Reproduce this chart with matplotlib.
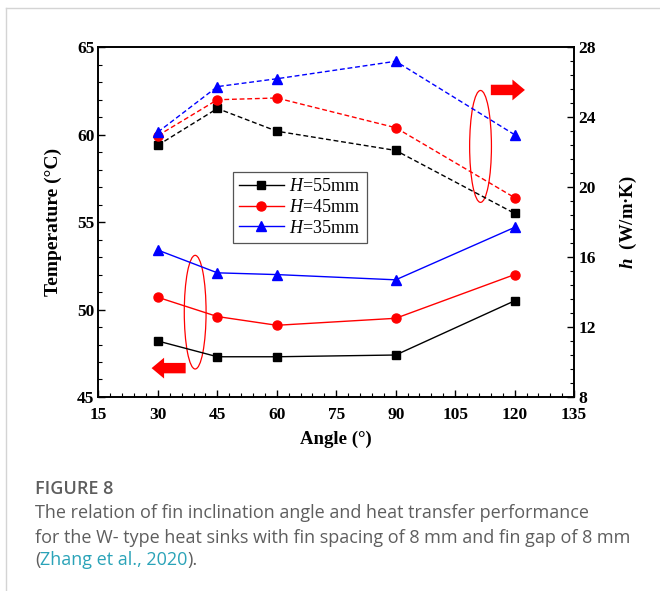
import matplotlib.pyplot as plt
from matplotlib.patches import Ellipse
from matplotlib.ticker import MultipleLocator
from matplotlib.lines import Line2D

angle = [30, 45, 60, 90, 120]
heights = ['55', '45', '35']

# surface temperature (left axis, solid)
temp_55 = [48.2, 47.3, 47.3, 47.4, 50.5]
temp_45 = [50.7, 49.6, 49.1, 49.5, 52.0]
temp_35 = [53.4, 52.1, 52.0, 51.7, 54.7]

# heat transfer coefficient (right axis, dashed)
h_55 = [22.4, 24.5, 23.2, 22.1, 18.5]
h_45 = [22.95, 25.0, 25.1, 23.4, 19.4]
h_35 = [23.15, 25.75, 26.2, 27.2, 23.0]

colors = ['black', 'red', 'blue']
markers = ['s', 'o', '^']
msizes = [5.5, 6.5, 7]

serif = 'Liberation Serif'
plt.rcParams['mathtext.fontset'] = 'custom'
plt.rcParams['mathtext.rm'] = 'Liberation Serif'
plt.rcParams['mathtext.it'] = 'Liberation Serif:italic'
plt.rcParams['mathtext.bf'] = 'Liberation Serif:bold:italic'

fig = plt.figure(figsize=(6.6, 5.91), dpi=100)

# card border
fig.add_artist(Line2D([0.009, 0.009], [0.0, 0.987], color='#d4d4d4', lw=1.0))
fig.add_artist(Line2D([0.009, 1.0], [0.987, 0.987], color='#d4d4d4', lw=1.0))

ax = fig.add_axes([0.1492, 0.3283, 0.7206, 0.5917])
ax2 = ax.twinx()

for T, h, c, m, ms, H in zip([temp_55, temp_45, temp_35], [h_55, h_45, h_35],
                             colors, markers, msizes, heights):
    ax.plot(angle, T, color=c, marker=m, markersize=ms, lw=1.0,
            label=r'$H$=' + H + 'mm')
    ax2.plot(angle, h, color=c, marker=m, markersize=ms, lw=1.0,
             linestyle=(0, (3.5, 2)))

ax.set_xlim(15, 135)
ax.set_ylim(45, 65)
ax2.set_ylim(8, 28)
ax.xaxis.set_major_locator(MultipleLocator(15))
ax.xaxis.set_minor_locator(MultipleLocator(3))
ax.yaxis.set_major_locator(MultipleLocator(5))
ax.yaxis.set_minor_locator(MultipleLocator(1))
ax2.yaxis.set_major_locator(MultipleLocator(4))
ax2.yaxis.set_minor_locator(MultipleLocator(0.8))

for a in (ax, ax2):
    a.tick_params(which='major', direction='in', length=5, width=1.0, labelsize=12.5, pad=3)
    a.tick_params(which='minor', direction='in', length=3, width=0.8)
    for lab in a.get_xticklabels() + a.get_yticklabels():
        lab.set_fontfamily(serif)
        lab.set_fontweight('bold')
    for s in a.spines.values():
        s.set_linewidth(1.2)
ax.tick_params(axis='x', pad=7)

ax.set_xlabel('Angle (°)', fontfamily=serif, fontweight='bold', fontsize=13.5, labelpad=6)
ax.set_ylabel('Temperature (°C)', fontfamily=serif, fontweight='bold', fontsize=14, labelpad=11)
ax2.set_ylabel(r'$\mathbf{h}$  (W/m·K)', fontfamily=serif, fontweight='bold',
               fontsize=13.5, labelpad=16)

# grouping ellipses and direction arrows
ax.add_patch(Ellipse((39.4, 49.85), 5.5, 6.5, fill=False, edgecolor='red', lw=0.9))
ax.add_patch(Ellipse((111.4, 59.33), 5.5, 6.4, fill=False, edgecolor='red', lw=0.9))
arrow = dict(arrowstyle='simple,head_width=1.5,head_length=0.9,tail_width=0.75',
             color='red', lw=0, shrinkA=0, shrinkB=0)
ax.annotate('', xy=(28.4, 46.65), xytext=(37.0, 46.65), arrowprops=arrow)
ax.annotate('', xy=(122.6, 62.56), xytext=(114.0, 62.56), arrowprops=arrow)

leg = ax.legend(loc='upper left', bbox_to_anchor=(0.282, 0.643), borderaxespad=0,
                prop={'family': serif, 'size': 13}, fancybox=False, framealpha=1,
                edgecolor='#555555', handlelength=2.5, handletextpad=0.3,
                labelspacing=0.2, borderpad=0.35)
leg.get_frame().set_linewidth(0.9)

# caption
cap = ['Open Sans', 'DejaVu Sans']
gray = '#5e5e5e'
fs = 13.0
fig.text(0.053, 0.1726, 'FIGURE 8', fontfamily=cap, fontsize=fs, fontweight='semibold',
         color=gray, va='center')
fig.text(0.053, 0.132, 'The relation of fin inclination angle and heat transfer performance',
         fontfamily=cap, fontsize=fs, color=gray, va='center')
fig.text(0.053, 0.0897, 'for the W- type heat sinks with fin spacing of 8 mm and fin gap of 8 mm',
         fontfamily=cap, fontsize=fs, color=gray, va='center')
t1 = fig.text(0.053, 0.0525, '(', fontfamily=cap, fontsize=fs, color=gray, va='center')
fig.canvas.draw()
x1 = t1.get_window_extent().x1 / fig.bbox.width
t2 = fig.text(x1, 0.0525, 'Zhang et al., 2020', fontfamily=cap, fontsize=fs,
              color='#2aa3b8', va='center')
fig.canvas.draw()
x2 = t2.get_window_extent().x1 / fig.bbox.width
fig.text(x2, 0.0525, ').', fontfamily=cap, fontsize=fs, color=gray, va='center')

fig.savefig('out.png', dpi=100)
